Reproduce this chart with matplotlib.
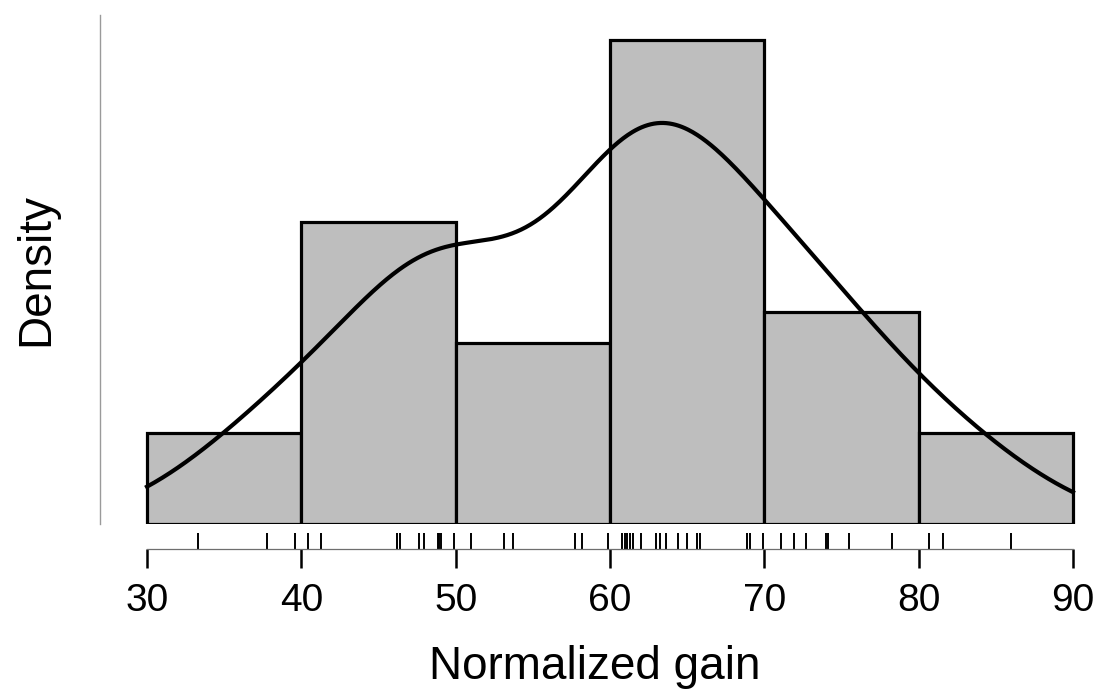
import numpy as np
import matplotlib
matplotlib.use("Agg")
import matplotlib.pyplot as plt
import matplotlib.transforms as mtransforms

plt.rcParams['font.family'] = ['Liberation Sans', 'DejaVu Sans']

# Normalized gain values (read from the rug)
gains = [33.3, 37.8, 39.6,
         40.45, 41.3, 46.2, 46.4, 47.6, 47.95, 48.85, 48.9, 49.05, 49.9,
         51.0, 53.15, 53.7, 57.7, 58.2, 59.9,
         60.8, 61.0, 61.1, 61.3, 61.5, 62.0, 63.0, 63.25, 63.6, 64.4, 65.0,
         65.65, 65.85, 68.85, 69.05, 69.9,
         71.1, 71.9, 72.7, 74.0, 74.15, 75.5, 78.25,
         80.7, 81.6, 86.0]
bin_edges = [30, 40, 50, 60, 70, 80, 90]
x_ticks = [30, 40, 50, 60, 70, 80, 90]

data = np.array(gains)
n = len(data)

# bw.nrd0 like R
sd = np.std(data, ddof=1)
iqr = np.subtract(*np.percentile(data, [75, 25]))
bw = 0.9 * min(sd, iqr / 1.34) * n ** (-0.2)
xs = np.linspace(30, 90, 600)
dens = np.exp(-0.5 * ((xs[:, None] - data[None, :]) / bw) ** 2).sum(axis=1) / (n * bw * np.sqrt(2 * np.pi))

W, H = 1096, 693
fig = plt.figure(figsize=(W / 100, H / 100), dpi=100)
left_px, right_px, top_px, bot_px = 100, 1090, 15, 524
ax = fig.add_axes([left_px / W, 1 - bot_px / H, (right_px - left_px) / W, (bot_px - top_px) / H])

ppu = (1073 - 147) / 60.0
ax.set_xlim(30 - (147 - left_px) / ppu, 90 + (right_px - 1073) / ppu)
ax.set_ylim(0, 0.0374)

ax.hist(data, bins=bin_edges, density=True, color='#BEBEBE', edgecolor='black', linewidth=2.3, zorder=2)
ax.plot(xs, dens, color='black', linewidth=3.0, zorder=3)

# rug
trans = mtransforms.blended_transform_factory(ax.transData, ax.transAxes)
h = bot_px - top_px
ax.vlines(data, -9 / h, -25 / h, transform=trans, color='black', linewidth=1.4, clip_on=False)

for s in ['top', 'right']:
    ax.spines[s].set_visible(False)
ax.spines['left'].set_color('#9a9a9a')
ax.spines['left'].set_linewidth(1.0)
ax.spines['bottom'].set_position(('outward', 25 * 0.72))
ax.spines['bottom'].set_bounds(30, 90)
ax.spines['bottom'].set_color('#6e6e6e')
ax.spines['bottom'].set_linewidth(0.9)

ax.set_yticks([])
ax.set_xticks(x_ticks)
ax.set_xticklabels([str(t) for t in x_ticks])
ax.tick_params(axis='x', direction='out', length=13.5, width=1.8, color='black', labelsize=28, pad=11)

ax.set_xlabel('Normalized gain', fontsize=33, labelpad=19)
ax.set_ylabel('Density', fontsize=33, labelpad=30)

fig.savefig('out.png', dpi=100)
